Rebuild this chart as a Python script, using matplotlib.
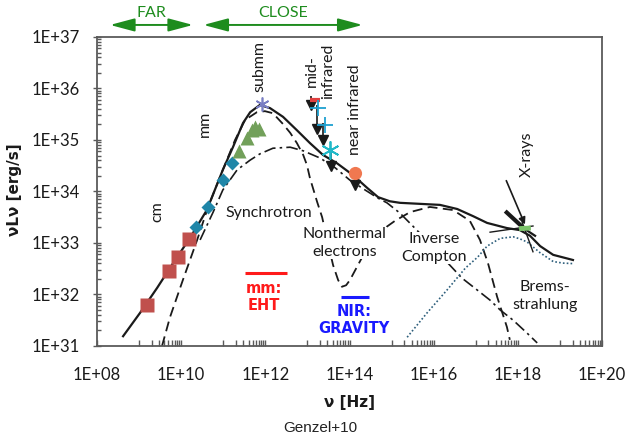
import numpy as np
import matplotlib
matplotlib.use("Agg")
import matplotlib.pyplot as plt
from matplotlib.ticker import FixedLocator, FixedFormatter, NullFormatter

plt.rcParams['font.family'] = ['Lato', 'DejaVu Sans']

# ---- data (log10 of frequency [Hz] and of nu*L_nu [erg/s]) ----
total_lognu = [8.62, 9.02, 9.43, 9.81, 10.21, 10.61, 10.99, 11.23, 11.47, 11.64, 11.87, 12.11,
               12.42, 12.75, 13.06, 13.37, 13.70, 14.08, 14.42, 14.68, 14.96, 15.20, 15.68,
               16.15, 16.56, 16.94, 17.27, 17.74, 18.05, 18.29, 18.53, 18.84, 19.17, 19.31]
total_logL = [31.19, 31.64, 32.13, 32.61, 33.10, 33.64, 34.42, 34.86, 35.33, 35.54, 35.68, 35.62,
              35.45, 35.19, 34.94, 34.71, 34.55, 34.32, 34.07, 33.89, 33.81, 33.78, 33.76,
              33.74, 33.66, 33.52, 33.39, 33.29, 33.25, 33.14, 32.94, 32.77, 32.70, 32.67]

nonthermal_lognu = [9.545, 9.735, 10.04, 10.38, 10.64, 10.97, 11.28, 11.52, 11.80, 11.99, 12.18,
                    12.42, 12.59, 12.75, 12.90, 12.99, 13.06, 13.16, 13.23, 13.35, 13.47, 13.61,
                    13.73, 13.82, 13.92, 14.01, 14.20, 14.39, 14.61, 14.84, 15.08, 15.44, 15.91,
                    16.46, 16.86, 17.10, 17.29, 17.51, 17.74, 17.81]
nonthermal_logL = [31.00, 31.56, 32.28, 33.06, 33.70, 34.38, 35.00, 35.39, 35.54, 35.56, 35.52,
                   35.31, 35.14, 34.94, 34.71, 34.51, 34.26, 33.99, 33.80, 33.50, 33.06, 32.57,
                   32.28, 32.15, 32.18, 32.28, 32.57, 32.86, 33.10, 33.29, 33.43, 33.60, 33.70,
                   33.64, 33.43, 33.06, 32.61, 31.95, 31.37, 31.12]

synchrotron_lognu = [10.45, 10.76, 10.99, 11.33, 11.64, 11.87, 12.18, 12.59, 12.90, 13.30, 13.66,
                     14.01, 14.37, 14.68, 14.89, 15.20, 15.60, 15.87, 16.27, 16.67, 17.03, 17.34,
                     17.58, 17.89, 18.22, 18.46]
synchrotron_logL = [33.06, 33.60, 34.03, 34.42, 34.61, 34.73, 34.84, 34.86, 34.79, 34.65, 34.46,
                    34.22, 34.03, 33.87, 33.78, 33.58, 33.25, 33.02, 32.67, 32.32, 32.09, 31.89,
                    31.70, 31.50, 31.25, 31.06]

brems_lognu = [15.37, 15.84, 16.32, 16.75, 17.05, 17.27, 17.58, 17.89, 18.05, 18.22, 18.53,
               18.84, 19.07, 19.31]
brems_logL = [31.17, 31.64, 32.09, 32.51, 32.73, 32.94, 33.09, 33.12, 33.08, 33.02, 32.81,
              32.64, 32.61, 32.60]

cm_lognu = [9.18, 9.71, 9.93, 10.19]
cm_logL = [31.80, 32.46, 32.73, 33.08]
mm_lognu = [10.35, 10.63, 10.99, 11.20]
mm_logL = [33.31, 33.70, 34.22, 34.56]
submm_tri_lognu = [11.37, 11.56, 11.68, 11.75, 11.85]
submm_tri_logL = [34.79, 35.04, 35.19, 35.25, 35.21]
submm_star_lognu = [11.93]
submm_star_logL = [35.69]

mir_bar_lognu = [13.18]
mir_bar_logL = [35.78]
mir_plus_lognu = [13.245, 13.42]
mir_plus_logL = [35.62, 35.30]
mir_star_lognu = [13.54]
mir_star_logL = [34.81]
nir_lognu = [14.13]
nir_logL = [34.36]

# upper limits: frequency, top of the arrow, arrow tip
ul_lognu = [13.09, 13.22, 13.38, 13.56, 14.13]
ul_top = [35.85, 35.68, 35.33, 34.81, 34.32]
ul_tip = [35.68, 35.21, 35.00, 34.50, 34.13]

# X-ray bow tie pieces
xray_arrow_lognu = [17.70, 18.195]
xray_arrow_logL = [34.26, 33.31]
xray_thick_lognu = [17.70, 18.15]
xray_thick_logL = [33.62, 33.28]
xray_thick_ext_lognu = [18.15, 18.41]
xray_thick_ext_logL = [33.28, 33.14]
xray_flat_lognu = [17.34, 18.36]
xray_flat_logL = [33.21, 33.33]
xray_steep_lognu = [18.10, 18.36]
xray_steep_logL = [33.41, 32.83]
xray_green_lognu = [18.03, 18.31]
xray_green_logL = [33.28, 33.29]

# instrument sensitivity bars
eht_lognu = [11.52, 12.52]
eht_logL = [32.42, 32.42]
gravity_lognu = [13.80, 14.46]
gravity_logL = [31.95, 31.95]

# distance ranges shown above the plot (log10 nu)
far_range = [8.31, 10.28]
close_range = [10.53, 14.31]

x_tick_exp = [8, 10, 12, 14, 16, 18, 20]
y_tick_exp = [31, 32, 33, 34, 35, 36, 37]


def p(a):
    return 10.0 ** np.asarray(a)


fig = plt.figure(figsize=(6.26, 4.34), dpi=100)
ax = fig.add_axes([97 / 626, 88 / 434, 505 / 626, 309 / 434])
ax.set_xscale('log')
ax.set_yscale('log')
ax.set_xlim(1e8, 1e20)
ax.set_ylim(1e31, 1e37)

ink = '#1a1a1a'

# model curves
ax.plot(p(total_lognu), p(total_logL), color=ink, lw=1.6, zorder=3)
ax.plot(p(nonthermal_lognu), p(nonthermal_logL), color=ink, lw=1.3,
        linestyle=(0, (5.5, 3.0)), zorder=2)
ax.plot(p(synchrotron_lognu), p(synchrotron_logL), color=ink, lw=1.2,
        linestyle=(0, (7, 2.5, 1.5, 2.5)), zorder=2)
ax.plot(p(brems_lognu), p(brems_logL), color='#2e5f7c', lw=1.2,
        linestyle=(0, (1, 1.3)), zorder=2)

# observed points
ax.plot(p(cm_lognu), p(cm_logL), 's', color='#c0504d', ms=9.5, mec='none', zorder=5)
ax.plot(p(mm_lognu), p(mm_logL), 'D', color='#1f86a8', ms=7, mec='none', zorder=5)
ax.plot(p(submm_tri_lognu), p(submm_tri_logL), '^', color='#72a05a', ms=9.5, mec='none', zorder=5)
ax.plot(p(submm_star_lognu), p(submm_star_logL), marker=(6, 2, 0), color='#7a7fc4',
        ms=10, mew=1.2, ls='none', zorder=5)
ax.plot(p(mir_bar_lognu), p(mir_bar_logL), '_', color='#e04040', ms=7, mew=3, zorder=6)
ax.plot(p(mir_plus_lognu), p(mir_plus_logL), '+', color='#1ea0d0', ms=11, mew=1.3, zorder=6)
ax.plot(p(mir_star_lognu), p(mir_star_logL), marker=(6, 2, 0), color='#20b8c8',
        ms=13, mew=1.3, ls='none', zorder=6)
ax.plot(p(nir_lognu), p(nir_logL), 'o', color='#f07850', ms=9.5, mec='none', zorder=6)

# upper limits
ax.vlines(p(ul_lognu), p(ul_tip), p(ul_top), color=ink, lw=1.2, zorder=4)
ax.plot(p(ul_lognu), p(ul_tip), 'v', color=ink, ms=6.5, zorder=4)

# X-ray bow tie
ax.annotate('', xy=(p(xray_arrow_lognu[1]), p(xray_arrow_logL[1])),
            xytext=(p(xray_arrow_lognu[0]), p(xray_arrow_logL[0])),
            arrowprops=dict(arrowstyle='-|>', color=ink, lw=1.2, mutation_scale=10), zorder=4)
ax.plot(p(xray_thick_lognu), p(xray_thick_logL), color=ink, lw=3.0, solid_capstyle='butt', zorder=4)
ax.plot(p(xray_thick_ext_lognu), p(xray_thick_ext_logL), color=ink, lw=1.6, zorder=4)
ax.plot(p(xray_flat_lognu), p(xray_flat_logL), color=ink, lw=1.0, zorder=4)
ax.plot(p(xray_steep_lognu), p(xray_steep_logL), color=ink, lw=1.0, zorder=4)
ax.plot(p(xray_green_lognu), p(xray_green_logL), color='#7cc46a', lw=3.5,
        solid_capstyle='butt', zorder=5)

# instrument bars
ax.plot(p(eht_lognu), p(eht_logL), color='#ff1a1a', lw=2.2, solid_capstyle='butt')
ax.plot(p(gravity_lognu), p(gravity_logL), color='#1a1aff', lw=2.2, solid_capstyle='butt')

# labels inside the plot
lab = dict(color=ink, fontsize=11.5, ha='center', va='center', zorder=7)
box = dict(facecolor='white', edgecolor='none', pad=0.5)
ax.text(p(12.09), p(33.58), 'Synchrotron', bbox=box, **lab)
ax.text(p(13.89), p(33.0), 'Nonthermal\nelectrons', bbox=box, linespacing=1.3, **lab)
ax.text(p(16.01), p(32.90), 'Inverse\nCompton', bbox=box, linespacing=1.3, **lab)
ax.text(p(18.65), p(31.97), 'Brems-\nstrahlung', bbox=box, linespacing=1.3, **lab)
ax.text(p(11.85), p(36.42), 'submm', rotation=90, **lab)
ax.text(p(13.30), p(36.34), 'mid-\ninfrared', rotation=90, linespacing=1.25, **lab)
ax.text(p(14.13), p(35.58), 'near infrared', rotation=90, **lab)
ax.text(p(18.22), p(34.73), 'X-rays', rotation=90, **lab)
ax.text(p(10.57), p(35.31), 'mm', rotation=90, **lab)
ax.text(p(9.43), p(33.60), 'cm', rotation=90, **lab)
ax.text(p(11.97), p(31.95), 'mm:\nEHT', color='#ff1a1a', fontsize=10.5, fontweight='bold',
        ha='center', va='center', linespacing=1.2, family=['DejaVu Sans'])
ax.text(p(14.11), p(31.50), 'NIR:\nGRAVITY', color='#1a1aff', fontsize=10.5, fontweight='bold',
        ha='center', va='center', linespacing=1.2, family=['DejaVu Sans'])

# distance ranges above the frame
green = '#1e8c1e'
for rng, name in [(far_range, 'FAR'), (close_range, 'CLOSE')]:
    ax.annotate('', xy=(p(rng[0]), 1.039), xytext=(p(rng[1]), 1.039),
                xycoords=('data', 'axes fraction'), textcoords=('data', 'axes fraction'),
                arrowprops=dict(arrowstyle='<|-|>,head_length=1.5,head_width=0.4',
                                color=green, lw=1.4, shrinkA=0, shrinkB=0),
                annotation_clip=False)
    ax.text(p(np.mean(rng)), 1.078, name, transform=ax.get_xaxis_transform(),
            color=green, fontsize=11.5, ha='center', va='center')

# axes styling
for s in ax.spines.values():
    s.set_color('#5a5a5a')
    s.set_linewidth(1.3)

ax.xaxis.set_major_locator(FixedLocator(p(x_tick_exp)))
ax.xaxis.set_major_formatter(FixedFormatter([f'1E+{e:02d}' for e in x_tick_exp]))
x_minor = [k * 10.0 ** e for e in range(9, 20, 2) for k in range(1, 10)]
ax.xaxis.set_minor_locator(FixedLocator(x_minor))
ax.xaxis.set_minor_formatter(NullFormatter())

ax.yaxis.set_major_locator(FixedLocator(p(y_tick_exp)))
ax.yaxis.set_major_formatter(FixedFormatter([f'1E+{e}' for e in y_tick_exp]))
y_minor = [k * 10.0 ** e for e in range(31, 37) for k in range(2, 10)]
ax.yaxis.set_minor_locator(FixedLocator(y_minor))
ax.yaxis.set_minor_formatter(NullFormatter())

ax.tick_params(axis='x', which='both', direction='in', length=4, width=1, color='#5a5a5a',
               pad=15, labelsize=12, labelcolor=ink)
ax.tick_params(axis='y', which='major', direction='inout', length=6, width=1, color='#5a5a5a',
               pad=9, labelsize=12, labelcolor=ink)
ax.tick_params(axis='y', which='minor', direction='in', length=3, width=1, color='#5a5a5a')

fig.text(15 / 626, 1 - 190 / 434, 'νLν [erg/s]', rotation=90, fontsize=11, fontweight='bold',
         color=ink, ha='center', va='center', family=['DejaVu Sans'])
fig.text(349 / 626, 1 - 403 / 434, 'ν [Hz]', fontsize=11, fontweight='bold', color=ink,
         ha='center', va='center', family=['DejaVu Sans'])
fig.text(320 / 626, 1 - 428 / 434, 'Genzel+10', fontsize=11, color='#222222',
         ha='center', va='center', family=['Liberation Sans'])

fig.savefig('out.png', dpi=100, facecolor='white')
